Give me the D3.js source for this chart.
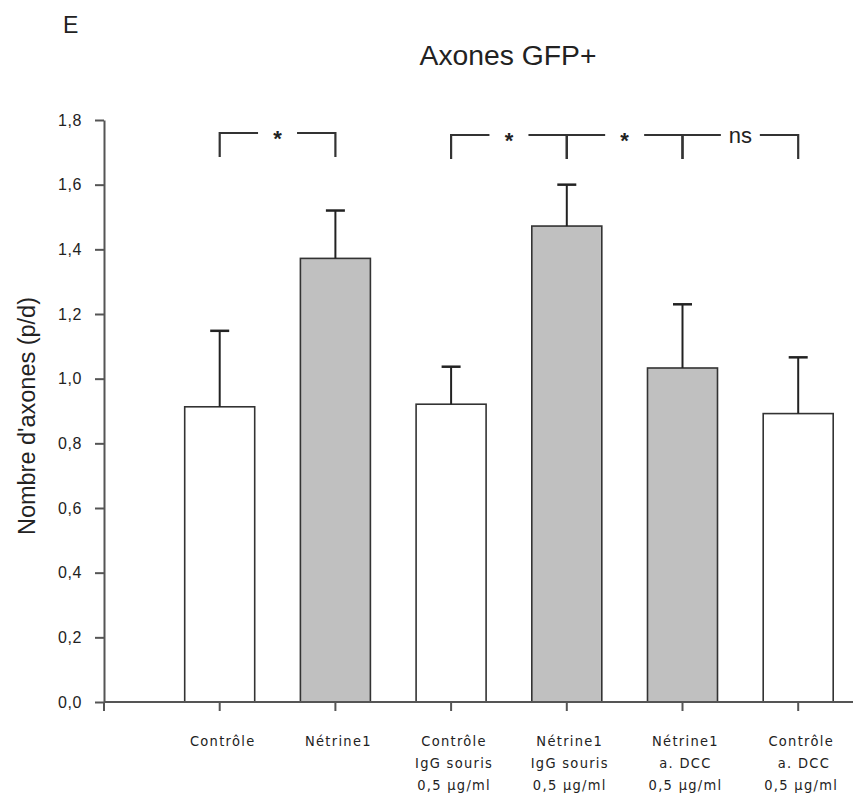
<!DOCTYPE html>
<html>
<head>
<meta charset="utf-8">
<script src="https://cdn.jsdelivr.net/npm/d3@7"></script>
<style>
  html, body { margin: 0; padding: 0; background: #fff; }
  svg { display: block; }
  text { font-family: "Liberation Sans", Arial, sans-serif; fill: #222; }
</style>
</head>
<body>
<svg id="chart" width="853" height="798"></svg>
<script>
// ---- data ----
const categories = ["Contrôle", "Nétrine1", "Contrôle IgG souris", "Nétrine1 IgG souris", "Nétrine1 a. DCC", "Contrôle a. DCC"];
const labelLines = [
  ["Contrôle"],
  ["Nétrine1"],
  ["Contrôle", "IgG souris", "0,5 µg/ml"],
  ["Nétrine1", "IgG souris", "0,5 µg/ml"],
  ["Nétrine1", "a. DCC", "0,5 µg/ml"],
  ["Contrôle", " a. DCC", "0,5 µg/ml"]
];
const treatment = ["control", "netrin", "control", "netrin", "netrin", "control"];
const means = [0.913, 1.372, 0.921, 1.472, 1.033, 0.892];
const errors = [0.235, 0.148, 0.116, 0.128, 0.197, 0.174];
const tickValues = [0, 0.2, 0.4, 0.6, 0.8, 1.0, 1.2, 1.4, 1.6, 1.8];
const tickLabels = ["0,0", "0,2", "0,4", "0,6", "0,8", "1,0", "1,2", "1,4", "1,6", "1,8"];
const comparisons = [[0, 1, "*"], [2, 3, "*"], [3, 4, "*"], [4, 5, "ns"]];
const titleText = "Axones GFP+";
const panelLetter = "E";
const yTitle = "Nombre d'axones (p/d)";

// ---- layout ----
const svg = d3.select("#chart");
const axisX = 104, baseY = 702, topY = 120;
const step = 115.7;

const y = d3.scaleLinear().domain([0, 1.8]).range([baseY, topY]);
const x = d3.scaleBand().domain(categories)
  .range([axisX + step / 2, axisX + step * 6.5])
  .paddingInner(0.395).paddingOuter(0.1975);
const fill = d3.scaleOrdinal().domain(["control", "netrin"]).range(["#ffffff", "#c0c0c0"]);

// panel letter & title
svg.append("text").attr("x", 63).attr("y", 33).style("font-size", "23px").text(panelLetter);
svg.append("text").attr("x", 508).attr("y", 65).attr("text-anchor", "middle")
  .attr("textLength", 177).attr("lengthAdjust", "spacingAndGlyphs")
  .style("font-size", "27px").text(titleText);

// y title
svg.append("text").attr("transform", "translate(35,416) rotate(-90)")
  .attr("text-anchor", "middle").attr("textLength", 238).attr("lengthAdjust", "spacingAndGlyphs")
  .style("font-size", "23px").text(yTitle);

// bars
const cx = i => x(categories[i]) + x.bandwidth() / 2;
svg.append("g").selectAll("rect").data(means).join("rect")
  .attr("x", (d, i) => x(categories[i]))
  .attr("y", d => y(d))
  .attr("width", x.bandwidth())
  .attr("height", d => baseY - y(d))
  .attr("fill", (d, i) => fill(treatment[i]))
  .attr("stroke", "#333").attr("stroke-width", 1.6);

// error bars
const eb = svg.append("g").attr("stroke", "#222").attr("stroke-width", 2);
means.forEach((m, i) => {
  eb.append("line").attr("x1", cx(i)).attr("x2", cx(i)).attr("y1", y(m)).attr("y2", y(m + errors[i]));
  eb.append("line").attr("x1", cx(i) - 9.5).attr("x2", cx(i) + 9.5)
    .attr("y1", y(m + errors[i])).attr("y2", y(m + errors[i])).attr("stroke-width", 2.5);
});

// y axis
const yAxis = d3.axisLeft(y).tickValues(tickValues).tickFormat((d, i) => tickLabels[i])
  .tickSize(9).tickSizeOuter(0).tickPadding(13);
const yg = svg.append("g").attr("transform", `translate(${axisX},0)`).call(yAxis);
yg.select(".domain").attr("stroke", "#555").attr("stroke-width", 2);
yg.selectAll(".tick line").attr("stroke", "#555").attr("stroke-width", 2);
yg.selectAll(".tick text").style("font-size", "16px").style("font-family", "Liberation Sans, Arial, sans-serif")
  .attr("fill", "#222").attr("letter-spacing", "0.6px");
svg.append("line").attr("x1", axisX).attr("x2", axisX).attr("y1", baseY).attr("y2", baseY + 9)
  .attr("stroke", "#555").attr("stroke-width", 2);

// x axis
svg.append("line").attr("x1", axisX).attr("x2", 853).attr("y1", baseY).attr("y2", baseY)
  .attr("stroke", "#555").attr("stroke-width", 2);
const xt = svg.append("g").attr("stroke", "#555").attr("stroke-width", 2);
categories.forEach((c, i) => {
  xt.append("line").attr("x1", cx(i)).attr("x2", cx(i)).attr("y1", baseY).attr("y2", baseY + 9);
});

// x labels
const lab = svg.append("g");
labelLines.forEach((lines, i) => {
  const t = lab.append("text").attr("text-anchor", "middle")
    .style("font-family", "'DejaVu Sans Condensed', 'DejaVu Sans', sans-serif")
    .style("font-size", "14.5px").style("white-space", "pre")
    .attr("letter-spacing", "1.3px").attr("fill", "#111");
  lines.forEach((l, k) => {
    t.append("tspan").attr("x", cx(i) + 3).attr("y", 746 + k * 22).text(l);
  });
});

// significance brackets
const br = svg.append("g");
comparisons.forEach(([a, b, label], k) => {
  const yy = k === 0 ? 133 : 135;
  const x1 = cx(a), x2 = cx(b), mid = (x1 + x2) / 2, gap = 19.5;
  const p = d3.path();
  p.moveTo(x1, yy + 24); p.lineTo(x1, yy); p.lineTo(mid - gap, yy);
  p.moveTo(mid + gap, yy); p.lineTo(x2, yy); p.lineTo(x2, yy + 24);
  br.append("path").attr("d", p.toString()).attr("fill", "none")
    .attr("stroke", "#333").attr("stroke-width", 2.2);
  if (label === "*") {
    br.append("text").attr("x", mid).attr("y", yy + 13).attr("text-anchor", "middle")
      .style("font-size", "22px").style("font-weight", "bold").attr("fill", "#333").text(label);
  } else {
    br.append("text").attr("x", mid).attr("y", yy + 8).attr("text-anchor", "middle")
      .style("font-size", "22px").attr("fill", "#222").text(label);
  }
});
</script>
</body>
</html>
